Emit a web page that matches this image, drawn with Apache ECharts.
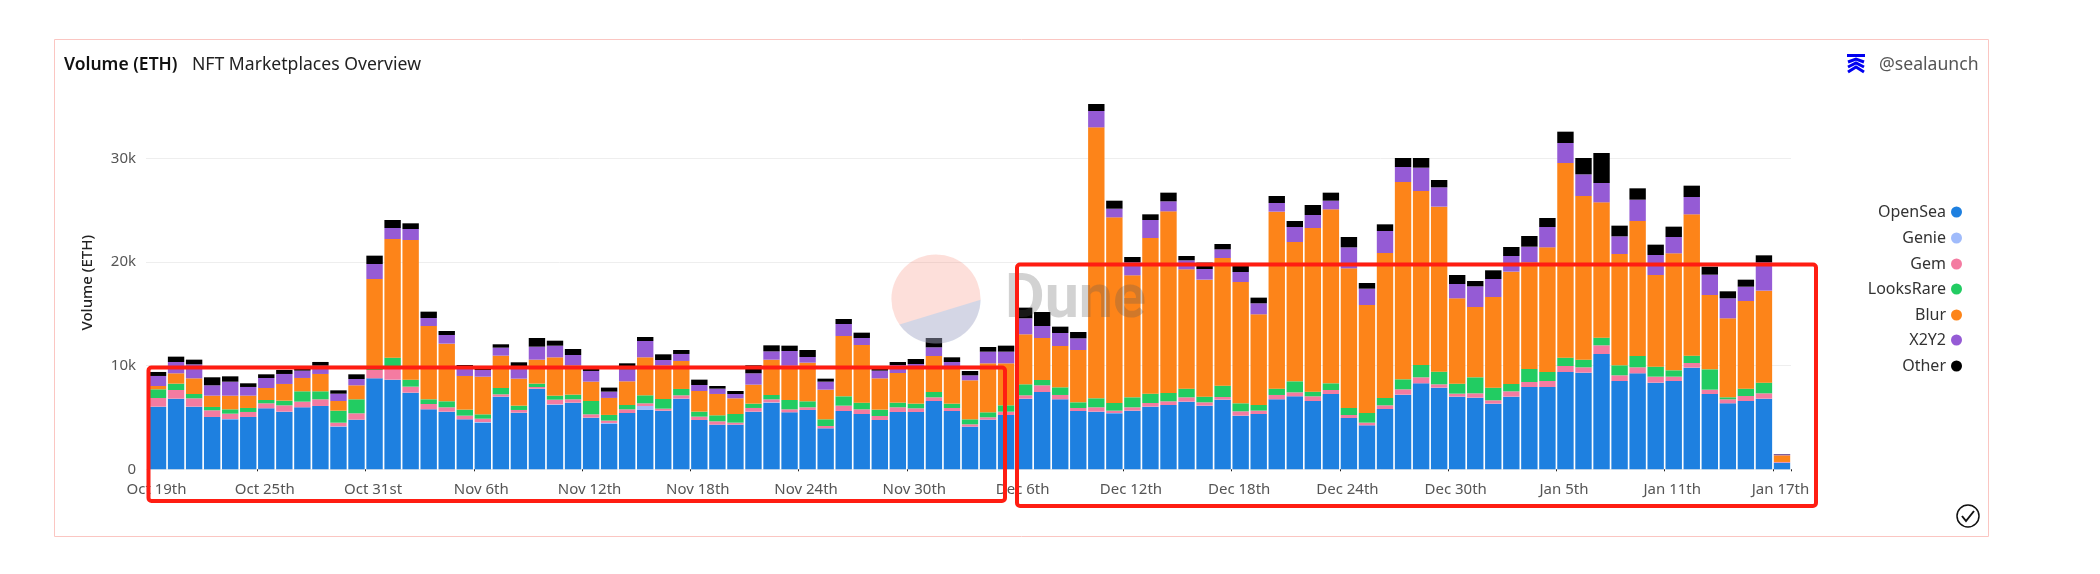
<!DOCTYPE html>
<html>
<head>
<meta charset="utf-8">
<title>Volume (ETH)</title>
<script src="https://cdn.jsdelivr.net/npm/echarts@6/dist/echarts.min.js"></script>
<style>
html, body { margin: 0; padding: 0; background: #fff; }
#chart { width: 2100px; height: 574px; }
</style>
</head>
<body>
<div id="chart"></div>
<script>
var days = [
	'Oct 19th','Oct 20th','Oct 21st','Oct 22nd','Oct 23rd','Oct 24th','Oct 25th','Oct 26th','Oct 27th','Oct 28th','Oct 29th','Oct 30th','Oct 31st',
	'Nov 1st','Nov 2nd','Nov 3rd','Nov 4th','Nov 5th','Nov 6th','Nov 7th','Nov 8th','Nov 9th','Nov 10th','Nov 11th','Nov 12th','Nov 13th','Nov 14th','Nov 15th','Nov 16th','Nov 17th','Nov 18th','Nov 19th','Nov 20th','Nov 21st','Nov 22nd','Nov 23rd','Nov 24th','Nov 25th','Nov 26th','Nov 27th','Nov 28th','Nov 29th','Nov 30th',
	'Dec 1st','Dec 2nd','Dec 3rd','Dec 4th','Dec 5th','Dec 6th','Dec 7th','Dec 8th','Dec 9th','Dec 10th','Dec 11th','Dec 12th','Dec 13th','Dec 14th','Dec 15th','Dec 16th','Dec 17th','Dec 18th','Dec 19th','Dec 20th','Dec 21st','Dec 22nd','Dec 23rd','Dec 24th','Dec 25th','Dec 26th','Dec 27th','Dec 28th','Dec 29th','Dec 30th','Dec 31st',
	'Jan 1st','Jan 2nd','Jan 3rd','Jan 4th','Jan 5th','Jan 6th','Jan 7th','Jan 8th','Jan 9th','Jan 10th','Jan 11th','Jan 12th','Jan 13th','Jan 14th','Jan 15th','Jan 16th','Jan 17th'
];
var opensea = [6044,6816,6044,5048,4823,5048,5883,5562,5980,6109,4115,4790,8777,8648,7395,5787,5562,4823,4501,7009,5466,7780,6237,6430,4983,4372,5433,5723,5658,6816,4758,4308,4308,5562,6430,5498,5723,3954,5626,5337,4758,5530,5530,6591,5626,4115,4790,5240,6816,7459,6752,5626,5562,5401,5658,6044,6205,6526,6141,6719,5176,5337,6752,7041,6591,7266,4951,4244,5819,7202,8295,7877,7009,6912,6334,7009,7941,7941,9388,9324,11124,8520,9259,8359,8520,9806,7266,6366,6591,6816,643];
var genie = [0,0,0,0,30,0,0,0,0,0,30,0,0,0,0,0,0,0,60,0,0,0,30,0,0,100,0,386,0,0,0,0,0,0,30,0,0,0,0,0,0,0,0,0,0,0,0,0,0,0,0,0,0,30,0,0,0,0,0,0,0,0,0,0,0,0,0,0,0,0,0,0,0,0,0,0,0,0,0,0,0,0,0,0,0,0,0,0,0,0,0];
var gem = [836,836,804,643,514,482,482,611,547,643,354,611,804,1093,579,514,418,354,322,225,257,161,450,322,322,225,354,257,193,322,322,322,193,354,289,289,257,225,514,450,386,450,354,354,289,225,225,322,322,643,418,289,418,225,322,354,354,418,322,257,418,322,418,386,450,386,289,257,354,514,579,322,289,418,322,514,482,579,579,514,836,547,579,579,418,450,418,386,482,514,64];
var looksrare = [836,611,418,322,418,386,322,450,997,772,1157,1350,161,1029,675,450,579,579,418,611,418,322,386,450,1286,547,418,772,932,611,482,579,836,418,418,900,579,643,900,643,611,450,450,514,418,482,482,611,1061,514,739,547,868,739,965,900,804,836,547,1093,772,547,611,1061,450,643,675,932,707,965,1190,1222,965,1543,1222,707,1254,868,804,739,739,965,1093,965,611,707,1961,193,707,1029,0];
var blur = [322,997,1511,1093,1318,1190,1157,1608,1286,1672,932,1350,8616,11445,13471,7073,5562,3247,3633,3119,2604,2315,3697,2829,1865,1640,2283,3665,3247,2701,1993,2058,1511,1833,3408,3311,3729,2861,5819,5562,3022,2861,3504,3472,3633,3762,4726,4051,4823,4051,3987,5048,26138,17908,11767,15014,17522,11510,11285,12313,11703,8745,17072,13439,15786,16782,13471,10417,13985,19033,16782,15914,8230,6784,8745,10835,10288,12024,18776,15786,13053,10738,13021,8841,11285,13632,7169,7620,8455,8873,643];
var x2y2 = [965,1093,1350,997,1350,836,965,965,707,804,707,611,1447,1061,1061,772,836,739,643,772,1222,1254,1125,997,1029,611,1157,1575,514,675,579,514,418,1093,804,1415,547,772,1157,675,739,772,322,836,386,482,1125,1125,1543,1157,1254,1125,1575,836,1254,1736,965,868,1029,836,965,1061,836,1447,1254,836,2025,1575,2122,1447,2251,1865,1382,1993,1736,1511,1511,1961,1929,2090,1865,1704,2058,1929,1575,1672,1961,1929,1382,2733,96];
var other = [386,514,450,772,514,354,354,386,193,354,322,450,804,772,547,611,386,322,225,322,354,836,482,579,354,386,579,386,547,386,514,257,289,772,579,514,675,289,482,514,193,289,482,900,450,418,450,579,1029,1350,611,611,675,772,514,547,836,418,611,514,643,547,675,579,965,772,997,547,643,868,932,707,868,514,836,868,1029,868,1093,1575,2894,1029,1093,997,997,1093,772,675,675,675,32];
var yTicks = [0, 10000, 20000, 30000];

var seriesNames = ['OpenSea', 'Genie', 'Gem', 'LooksRare', 'Blur', 'X2Y2', 'Other'];
var seriesData = [opensea, genie, gem, looksrare, blur, x2y2, other];
var seriesColors = ['#1e80e0', '#a0bbfb', '#f47ba1', '#22cc62', '#fd8419', '#955bd5', '#000000'];
var legendTops = [199, 225, 251, 276, 302, 327, 353];

var uiFont = '"Noto Sans", sans-serif';
var Container = document.getElementById('chart');
var myChart = echarts.init(Container);

var series = seriesNames.map(function (name, i) {
	return {
		name: name,
		type: 'bar',
		stack: 'volume',
		barWidth: 16.4,
		itemStyle: { color: seriesColors[i] },
		data: seriesData[i]
	};
});

// one legend per item, a single vertical legend does not right align its rows
var legends = seriesNames.map(function (name, i) {
	return {
		data: [name],
		right: 133,
		top: legendTops[i],
		align: 'right',
		selectedMode: false,
		icon: 'circle',
		itemWidth: 11,
		itemHeight: 11,
		itemGap: 0,
		textStyle: { fontFamily: uiFont, fontSize: 16, color: '#333' }
	};
});

// lower part of the watermark disc, cut off by a chord
var discPoints = [];
for (var a = 145; a >= -1; a -= 4) {
	discPoints.push([936 + 44.6 * Math.cos(a * Math.PI / 180), 299 + 44.6 * Math.sin(a * Math.PI / 180)]);
}

var option = {
	animation: false,
	backgroundColor: '#fff',
	textStyle: { fontFamily: uiFont },
	title: [
		{ text: 'Volume (ETH)', left: 64, top: 56, padding: 0, textStyle: { fontFamily: uiFont, fontSize: 17.5, fontWeight: 600, color: '#111' } },
		{ text: 'NFT Marketplaces Overview', left: 192, top: 56, padding: 0, textStyle: { fontFamily: uiFont, fontSize: 17.6, fontWeight: 400, color: '#222' } },
		{ text: '@sealaunch', left: 1879, top: 56, padding: 0, textStyle: { fontFamily: uiFont, fontSize: 17.6, fontWeight: 400, color: '#555' } }
	],
	legend: legends,
	grid: { left: 149, top: 96.1, width: 1642, height: 373.2, containLabel: false },
	xAxis: {
		type: 'category',
		data: days,
		axisLine: { show: false },
		axisTick: { show: true, length: 2, lineStyle: { color: '#222' } },
		axisLabel: { interval: 5, margin: 13, padding: [0, 3, 0, 0], fontFamily: uiFont, fontSize: 15, color: '#555' }
	},
	yAxis: {
		type: 'value',
		min: yTicks[0],
		max: 36000,
		interval: yTicks[1],
		name: 'Volume (ETH)',
		nameLocation: 'middle',
		nameRotate: 90,
		nameGap: 54,
		nameTextStyle: { fontFamily: uiFont, fontSize: 15, fontWeight: 500, color: '#222' },
		axisLine: { show: false },
		axisTick: { show: true, length: 3, lineStyle: { color: '#eee' } },
		splitLine: { show: true, showMaxLine: false, lineStyle: { color: '#eeeeee' } },
		axisLabel: {
			showMaxLabel: false,
			margin: 13,
			fontFamily: uiFont,
			fontSize: 15,
			color: '#555',
			padding: [0, 0, 3, 0],
			formatter: function (v) { return v === 0 ? '0' : v / 1000 + 'k'; }
		}
	},
	series: series,
	graphic: [
		// card border
		{ type: 'rect', z: 0, silent: true, shape: { x: 54.5, y: 39.5, width: 1934, height: 497 }, style: { fill: 'none', stroke: '#fbc6c2', lineWidth: 1 } },
		// Dune watermark
		{ type: 'circle', z: 20, silent: true, shape: { cx: 936, cy: 299, r: 44.6 }, style: { fill: 'rgba(246,120,100,0.24)' } },
		{ type: 'polygon', z: 21, silent: true, shape: { points: discPoints }, style: { fill: 'rgba(120,195,255,0.3)' } },
		{ type: 'text', z: 22, silent: true, x: 1005, y: 271, style: { text: 'Dune', fontFamily: 'Roboto, sans-serif', fontSize: 61, fontWeight: 700, fill: 'rgba(90,90,90,0.27)' } },
		// red highlight boxes
		{ type: 'rect', z: 30, silent: true, shape: { x: 148.5, y: 367.5, width: 856.5, height: 133.5, r: 3 }, style: { fill: 'none', stroke: '#ff1d12', lineWidth: 4 } },
		{ type: 'rect', z: 30, silent: true, shape: { x: 1017, y: 264.5, width: 799, height: 241.5, r: 3 }, style: { fill: 'none', stroke: '#ff1d12', lineWidth: 4 } },
		// logo
		{ type: 'polyline', z: 5, silent: true, shape: { points: [[1847, 55.5], [1865, 55.5]] }, style: { fill: 'none', stroke: '#0000f0', lineWidth: 3 } },
		{ type: 'polyline', z: 5, silent: true, shape: { points: [[1848, 62], [1856, 59], [1864, 62]] }, style: { fill: 'none', stroke: '#0000f0', lineWidth: 3 } },
		{ type: 'polyline', z: 5, silent: true, shape: { points: [[1848, 67], [1856, 63], [1864, 67]] }, style: { fill: 'none', stroke: '#0000f0', lineWidth: 3 } },
		{ type: 'polyline', z: 5, silent: true, shape: { points: [[1848, 72], [1856, 67], [1864, 72]] }, style: { fill: 'none', stroke: '#0000f0', lineWidth: 3 } },
		// check mark
		{ type: 'circle', z: 5, silent: true, shape: { cx: 1968, cy: 516, r: 11 }, style: { fill: 'none', stroke: '#111', lineWidth: 1.5 } },
		{ type: 'polyline', z: 5, silent: true, shape: { points: [[1962, 516], [1966, 521], [1974, 511]] }, style: { fill: 'none', stroke: '#111', lineWidth: 2 } }
	]
};
myChart.setOption(option);
</script>
</body>
</html>
